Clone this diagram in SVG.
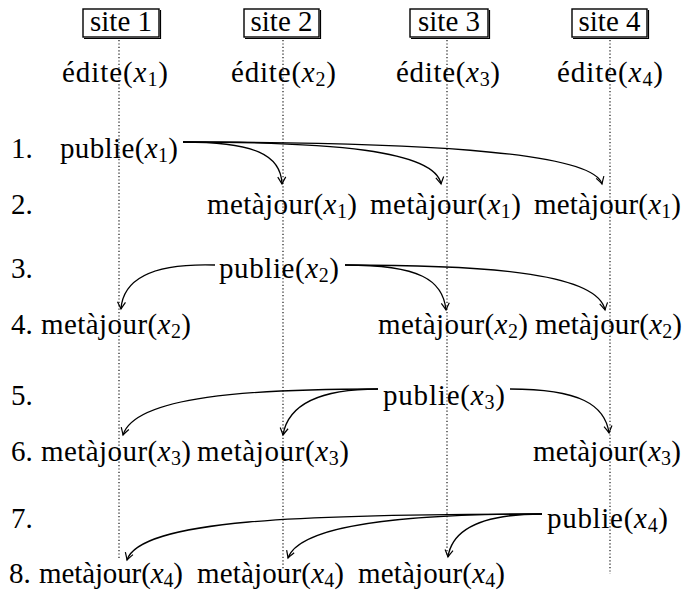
<svg xmlns="http://www.w3.org/2000/svg" width="686" height="592" viewBox="0 0 686 592">
<style>
.t{font-family:Liberation Serif,Times New Roman,serif;font-size:29px;fill:#000}
.i{font-style:italic}
.s{font-size:20px}
.life{stroke:#000;stroke-width:1.1;stroke-dasharray:1.2 2.2;fill:none}
.box{fill:#fff;stroke:#000;stroke-width:1.4}
.sh{fill:none;stroke:#000;stroke-width:1.2}
.arr{fill:none;stroke:#000;stroke-width:1.3;marker-end:url(#ah)}
</style>
<defs>
<marker id="ah" viewBox="-10 -6 12 12" markerWidth="12" markerHeight="12" refX="0" refY="0" orient="auto" markerUnits="userSpaceOnUse">
<path d="M-7,-4 Q-2,-1 0,0 Q-2,1 -7,4" fill="none" stroke="#000" stroke-width="1.2"/>
</marker>
</defs>
<rect width="686" height="592" fill="#fff"/>
<g id="lifelines">
<line class="life" x1="119" y1="40" x2="119" y2="560"/>
<line class="life" x1="283" y1="40" x2="283" y2="569"/>
<line class="life" x1="447" y1="40" x2="447" y2="556"/>
<line class="life" x1="610" y1="40" x2="610" y2="574"/>
</g>
<g id="site1"><rect class="box" x="83" y="9" width="76" height="28"/><polyline class="sh" points="160.5,10 160.5,38.5 84,38.5"/><text class="t" x="121" y="31" text-anchor="middle" textLength="62">site 1</text></g>
<g id="site2"><rect class="box" x="244" y="9" width="75" height="28"/><polyline class="sh" points="320.5,10 320.5,38.5 245,38.5"/><text class="t" x="281.5" y="31" text-anchor="middle" textLength="62">site 2</text></g>
<g id="site3"><rect class="box" x="410" y="9" width="78" height="28"/><polyline class="sh" points="489.5,10 489.5,38.5 411,38.5"/><text class="t" x="449" y="31" text-anchor="middle" textLength="62">site 3</text></g>
<g id="site4"><rect class="box" x="572" y="9" width="75" height="28"/><polyline class="sh" points="648.5,10 648.5,38.5 573,38.5"/><text class="t" x="609.5" y="31" text-anchor="middle" textLength="62">site 4</text></g>

<g id="edite1"><text class="t" x="62" y="82" textLength="106">édite(<tspan class="i">x</tspan><tspan class="s" dy="4">1</tspan><tspan dy="-4">)</tspan></text></g>
<g id="edite2"><text class="t" x="231" y="82" textLength="105">édite(<tspan class="i">x</tspan><tspan class="s" dy="4">2</tspan><tspan dy="-4">)</tspan></text></g>
<g id="edite3"><text class="t" x="396" y="82" textLength="104">édite(<tspan class="i">x</tspan><tspan class="s" dy="4">3</tspan><tspan dy="-4">)</tspan></text></g>
<g id="edite4"><text class="t" x="557" y="82" textLength="106">édite(<tspan class="i">x</tspan><tspan class="s" dy="4">4</tspan><tspan dy="-4">)</tspan></text></g>

<g id="rownums">
<text class="t" x="11" y="158">1.</text>
<text class="t" x="11" y="214">2.</text>
<text class="t" x="11" y="278">3.</text>
<text class="t" x="11" y="334">4.</text>
<text class="t" x="11" y="405">5.</text>
<text class="t" x="11" y="461">6.</text>
<text class="t" x="11" y="528">7.</text>
<text class="t" x="9" y="583">8.</text>
</g>

<g id="publie1"><text class="t" x="60" y="158" textLength="118">publie(<tspan class="i">x</tspan><tspan class="s" dy="4">1</tspan><tspan dy="-4">)</tspan></text></g>
<g id="maj1-2"><text class="t" x="207" y="214" textLength="150">metàjour(<tspan class="i">x</tspan><tspan class="s" dy="4">1</tspan><tspan dy="-4">)</tspan></text></g>
<g id="maj1-3"><text class="t" x="370" y="214" textLength="151">metàjour(<tspan class="i">x</tspan><tspan class="s" dy="4">1</tspan><tspan dy="-4">)</tspan></text></g>
<g id="maj1-4"><text class="t" x="534" y="214" textLength="147">metàjour(<tspan class="i">x</tspan><tspan class="s" dy="4">1</tspan><tspan dy="-4">)</tspan></text></g>

<g id="publie2"><text class="t" x="219" y="278" textLength="120">publie(<tspan class="i">x</tspan><tspan class="s" dy="4">2</tspan><tspan dy="-4">)</tspan></text></g>
<g id="maj2-1"><text class="t" x="41" y="334" textLength="150">metàjour(<tspan class="i">x</tspan><tspan class="s" dy="4">2</tspan><tspan dy="-4">)</tspan></text></g>
<g id="maj2-3"><text class="t" x="378" y="334" textLength="150">metàjour(<tspan class="i">x</tspan><tspan class="s" dy="4">2</tspan><tspan dy="-4">)</tspan></text></g>
<g id="maj2-4"><text class="t" x="535" y="334" textLength="147">metàjour(<tspan class="i">x</tspan><tspan class="s" dy="4">2</tspan><tspan dy="-4">)</tspan></text></g>

<g id="publie3"><text class="t" x="383" y="405" textLength="122">publie(<tspan class="i">x</tspan><tspan class="s" dy="4">3</tspan><tspan dy="-4">)</tspan></text></g>
<g id="maj3-1"><text class="t" x="41" y="461" textLength="150">metàjour(<tspan class="i">x</tspan><tspan class="s" dy="4">3</tspan><tspan dy="-4">)</tspan></text></g>
<g id="maj3-2"><text class="t" x="197" y="461" textLength="152">metàjour(<tspan class="i">x</tspan><tspan class="s" dy="4">3</tspan><tspan dy="-4">)</tspan></text></g>
<g id="maj3-4"><text class="t" x="533" y="461" textLength="148">metàjour(<tspan class="i">x</tspan><tspan class="s" dy="4">3</tspan><tspan dy="-4">)</tspan></text></g>

<g id="publie4"><text class="t" x="547" y="528" textLength="121">publie(<tspan class="i">x</tspan><tspan class="s" dy="4">4</tspan><tspan dy="-4">)</tspan></text></g>
<g id="maj4-1"><text class="t" x="39" y="583" textLength="144">metàjour(<tspan class="i">x</tspan><tspan class="s" dy="4">4</tspan><tspan dy="-4">)</tspan></text></g>
<g id="maj4-2"><text class="t" x="197" y="583" textLength="147">metàjour(<tspan class="i">x</tspan><tspan class="s" dy="4">4</tspan><tspan dy="-4">)</tspan></text></g>
<g id="maj4-3"><text class="t" x="358" y="583" textLength="147">metàjour(<tspan class="i">x</tspan><tspan class="s" dy="4">4</tspan><tspan dy="-4">)</tspan></text></g>

<g id="connectors">
<path class="arr" d="M183,142 C255,142 281,155 282,184"/>
<path class="arr" d="M183,142 C330,142 435,150 441,184"/>
<path class="arr" d="M183,142 C400,142 592,150 602,184"/>
<path class="arr" d="M215,265 C150,263 123,280 121,309"/>
<path class="arr" d="M345,265 C420,265 443,280 446,310"/>
<path class="arr" d="M345,265 C500,265 598,275 605,310"/>
<path class="arr" d="M378,389 C250,389 135,396 123,435"/>
<path class="arr" d="M378,389 C320,389 288,405 283,435"/>
<path class="arr" d="M510,389 C580,389 605,405 609,433"/>
<path class="arr" d="M542,514 C300,514 140,520 127,560"/>
<path class="arr" d="M542,514 C400,514 300,525 288,558"/>
<path class="arr" d="M542,514 C480,514 452,530 448,557"/>
</g>
</svg>
